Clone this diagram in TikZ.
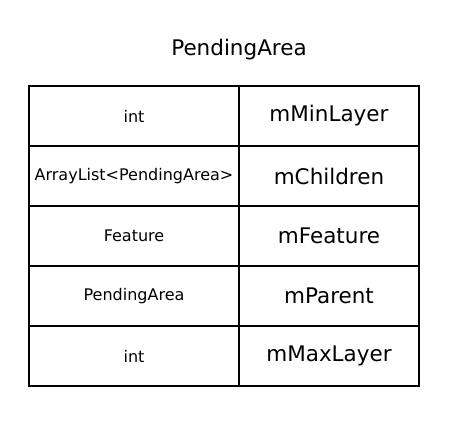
\documentclass[tikz,border=0pt]{standalone}
\usepackage{fontspec}
\setmainfont{DejaVu Sans}
\begin{document}
\begin{tikzpicture}[x=1pt, y=-1pt,
    cell/.style={draw, line width=1.2pt, inner sep=0pt, minimum height=60pt},
    typecell/.style={cell, minimum width=210pt, font=\fontsize{16}{19}\selectfont},
    namecell/.style={cell, minimum width=180pt, font=\fontsize{21.5}{25}\selectfont}]
\useasboundingbox (0,0) rectangle (462,420);
\node[font=\fontsize{21.5}{25}\selectfont] (title) at (239,50) {PendingArea};
\foreach \type/\field [count=\i] in {int/mMinLayer, ArrayList<PendingArea>/mChildren,
    Feature/mFeature, PendingArea/mParent, int/mMaxLayer}{
  \node[typecell] (type\i) at (134,56+60*\i) {\type};
  \node[namecell] (field\i) at (329,56+60*\i) {\field};
}
\end{tikzpicture}
\end{document}
